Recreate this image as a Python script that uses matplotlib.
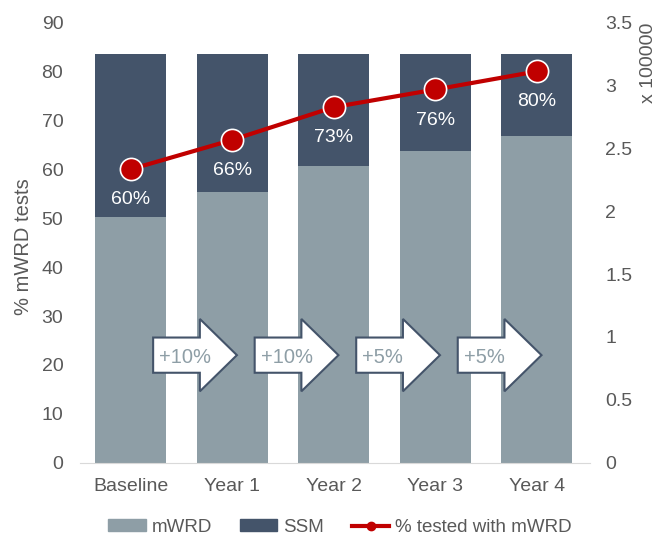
import matplotlib.pyplot as plt
from matplotlib.patches import FancyArrow, Patch
from matplotlib.lines import Line2D

plt.rcParams['font.family'] = ['Liberation Sans', 'DejaVu Sans']

categories = ['Baseline', 'Year 1', 'Year 2', 'Year 3', 'Year 4']
mwrd = [1.95, 2.15, 2.36, 2.48, 2.60]          # x 100000
total = [3.25, 3.25, 3.25, 3.25, 3.25]
ssm = [t - m for t, m in zip(total, mwrd)]
pct_tested = [60, 66, 72.7, 76.3, 80]
step_labels = ['+10%', '+10%', '+5%', '+5%']

c_mwrd = '#8e9ea6'
c_ssm = '#44546a'
c_line = '#c00000'
c_text = '#595959'

fig = plt.figure(figsize=(6.56, 5.35), dpi=100)
ax = fig.add_axes([0.122, 0.135, 0.777, 0.823])
ax2 = ax.twinx()
ax.set_zorder(ax2.get_zorder() + 1)
ax.patch.set_visible(False)

x = list(range(len(categories)))
ax2.bar(x, mwrd, width=0.7, color=c_mwrd)
ax2.bar(x, ssm, width=0.7, bottom=mwrd, color=c_ssm)
ax2.set_ylim(0, 3.5)
ax2.set_yticks([0, 0.5, 1, 1.5, 2, 2.5, 3, 3.5])
ax2.set_yticklabels(['0', '0.5', '1', '1.5', '2', '2.5', '3', '3.5'])

ax.plot(x, pct_tested, color=c_line, lw=3, marker='o', ms=16,
        markeredgecolor='white', markeredgewidth=1.2)
for xi, v in zip(x, pct_tested):
    ax.annotate(f'{round(v)}%', (xi, v), xytext=(0, -22), textcoords='offset points',
                ha='center', va='center', color='white', fontsize=14)

# growth arrows between bars
for i, lab in enumerate(step_labels):
    arr = FancyArrow(i + 0.22, 22, 0.825, 0, width=7.2, head_width=14.8,
                     head_length=0.365, length_includes_head=True,
                     facecolor='white', edgecolor=c_ssm, lw=1.5, zorder=3)
    ax.add_patch(arr)
    ax.text(i + 0.28, 21.6, lab, ha='left', va='center', color=c_mwrd,
            fontsize=14.5, zorder=4)

ax.set_xlim(-0.5, 4.52)
ax.set_ylim(0, 90)
ax.set_yticks(range(0, 91, 10))
ax.set_xticks(x)
ax.set_xticklabels(categories)
ax.set_ylabel('% mWRD tests', fontsize=14.5, color=c_text)
ax.yaxis.set_label_coords(-0.092, 0.49)
ax2.text(1.116, 1.0, 'x 100000', transform=ax2.transAxes, rotation=90,
         ha='center', va='top', fontsize=14, color=c_text)

for a in (ax, ax2):
    for s in a.spines.values():
        s.set_visible(False)
    a.tick_params(length=0, labelsize=14, labelcolor=c_text)
ax.spines['bottom'].set_visible(True)
ax.spines['bottom'].set_color('#d9d9d9')
ax.tick_params(axis='y', pad=12)
ax.tick_params(axis='x', pad=11)
ax2.tick_params(axis='y', pad=11)

handles = [Patch(color=c_mwrd, label='mWRD'),
           Patch(color=c_ssm, label='SSM'),
           Line2D([], [], color=c_line, lw=3, marker='o', ms=6,
                  label='% tested with mWRD')]
ax.legend(handles=handles, loc='center', bbox_to_anchor=(0.51, -0.147), ncol=3,
          frameon=False, fontsize=13.5, labelcolor=c_text, handlelength=2.0,
          handleheight=0.6, columnspacing=1.5, handletextpad=0.3)

fig.savefig('out.png', dpi=100)
